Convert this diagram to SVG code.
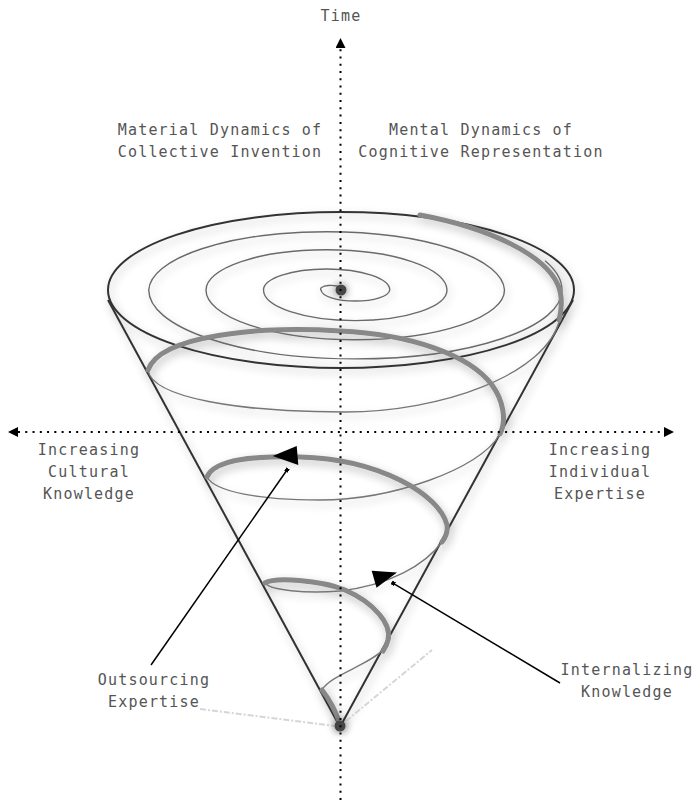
<svg xmlns="http://www.w3.org/2000/svg" width="700" height="804" viewBox="0 0 700 804">
<defs>
<style>
.lbl{font-family:"DejaVu Sans Mono","Liberation Mono",monospace;font-size:15px;letter-spacing:1.2px;fill:#555;text-anchor:middle}
.edge{fill:none;stroke:#333;stroke-width:2}
.ring{fill:none;stroke:#6a6a6a;stroke-width:1.4}
.thin{fill:none;stroke:#777;stroke-width:1.4}
.thick{fill:none;stroke:#888;stroke-width:5;stroke-linecap:round}
.dots{fill:none;stroke:#000;stroke-width:2;stroke-dasharray:2 5.27}
.ptr{fill:none;stroke:#000;stroke-width:1.5}
.faint{fill:none;stroke:#d6d6d6;stroke-width:2;stroke-dasharray:6 2 2 2}
</style>
<filter id="shadow" x="-20%" y="-20%" width="140%" height="140%">
<feGaussianBlur in="SourceAlpha" stdDeviation="5" result="b"/>
<feOffset in="b" dx="2" dy="4" result="o"/>
<feComponentTransfer in="o" result="s"><feFuncA type="linear" slope="0.28"/></feComponentTransfer>
<feMerge><feMergeNode in="s"/><feMergeNode in="SourceGraphic"/></feMerge>
</filter>
<filter id="glow" x="-150%" y="-150%" width="400%" height="400%">
<feGaussianBlur in="SourceAlpha" stdDeviation="4" result="b"/>
<feComponentTransfer in="b" result="s"><feFuncA type="linear" slope="0.6"/></feComponentTransfer>
<feMerge><feMergeNode in="s"/><feMergeNode in="SourceGraphic"/></feMerge>
</filter>
<marker id="axisArrow" viewBox="0 0 10 10" refX="0" refY="5" markerWidth="10" markerHeight="10" markerUnits="userSpaceOnUse" orient="auto-start-reverse">
<path d="M0,0 L10,5 L0,10 z" fill="#000"/>
</marker>
<marker id="sq" viewBox="0 0 4 4" refX="2" refY="2" markerWidth="4" markerHeight="4" markerUnits="userSpaceOnUse" orient="auto">
<path d="M0,0 H4 V4 H0 z" fill="#000"/>
</marker>
</defs>
<rect width="700" height="804" fill="#fff"/>

<g id="cone" filter="url(#shadow)">
<line class="edge" x1="108" y1="300" x2="340" y2="727"/>
<line class="edge" x1="573" y1="300" x2="340" y2="727"/>
<ellipse class="edge" cx="341" cy="290" rx="233" ry="78"/>
<path class="ring" d="M341 288 A10 3.5 0 0 0 321 290 A34.4 11.5 0 0 0 389.75 290 A63.1 21 0 0 0 263.5 290 A91.75 30.6 0 0 0 447 290 A120.5 40.2 0 0 0 206 290 A149.25 49.75 0 0 0 504.5 290 A177.9 59.3 0 0 0 148.75 290 A206.6 68.9 0 0 0 562 290 A235.4 78.5 0 0 0 545 260.7"/>
<path class="thin" d="M560 318 C548 375 440 412 345 412 C240 412 152 398 148 370"/>
<path class="thin" d="M500 434 C480 470 390 500 320 500 C260 500 215 492 207 477"/>
<path class="thin" d="M442 542 C425 565 390 585 340 591 C305 594 270 590 265 583"/>
<path class="thin" d="M385 648 C370 665 330 675 322 690"/>
<path class="thick" d="M420 215 C490 228 545 255 558 285 C563 297 562 308 559 320"/>
<path class="thick" d="M148 370 C160 335 260 326 340 331 C410 334 470 355 492 385 C503 400 507 420 500 434"/>
<path class="thick" d="M207 477 C215 458 260 456 300 457 C380 459 440 495 447 525 C448 532 446 537 442 542"/>
<path class="thick" d="M265 583 C275 577 320 580 345 590 C375 603 392 625 388 640 C387 645 385 648 383 651"/>
<path class="thick" d="M322 690 C330 700 336 712 340 724"/>
</g>
<path class="faint" d="M200 709 L334 726"/>
<path class="faint" d="M346 721 L432 650"/>
<g id="center-point" filter="url(#glow)"><circle cx="341" cy="290" r="5.5" fill="#444"/></g>
<g id="apex-point" filter="url(#glow)"><circle cx="340" cy="726" r="5.5" fill="#444"/></g>

<g id="connectors">
<path id="axis-time" class="dots" d="M340.5 800 L340.5 48" marker-end="url(#axisArrow)"/>
<path id="axis-knowledge" class="dots" d="M18 432 L664 432" marker-start="url(#axisArrow)" marker-end="url(#axisArrow)"/>
<path id="ptr-outsourcing" class="ptr" d="M287 470 L151 665" marker-start="url(#sq)"/>
<polygon points="272.7,456 296.7,446 298.3,465" fill="#000"/>
<path id="ptr-internalizing" class="ptr" d="M393.3 583.3 L560 683" marker-start="url(#sq)"/>
<polygon points="371.7,570.7 397,572.5 376.5,587.7" fill="#000"/>
</g>

<g id="label-time"><text class="lbl" x="341" y="21">Time</text></g>
<g id="label-material"><text class="lbl" x="220" y="135">Material Dynamics of</text><text class="lbl" x="220" y="157">Collective Invention</text></g>
<g id="label-mental"><text class="lbl" x="481" y="135">Mental Dynamics of</text><text class="lbl" x="481" y="157">Cognitive Representation</text></g>
<g id="label-cultural"><text class="lbl" x="89" y="455">Increasing</text><text class="lbl" x="89" y="477">Cultural</text><text class="lbl" x="89" y="499">Knowledge</text></g>
<g id="label-individual"><text class="lbl" x="600" y="455">Increasing</text><text class="lbl" x="600" y="477">Individual</text><text class="lbl" x="600" y="499">Expertise</text></g>
<g id="label-outsourcing"><text class="lbl" x="154" y="685">Outsourcing</text><text class="lbl" x="154" y="707">Expertise</text></g>
<g id="label-internalizing"><text class="lbl" x="627" y="675">Internalizing</text><text class="lbl" x="627" y="697">Knowledge</text></g>
</svg>
